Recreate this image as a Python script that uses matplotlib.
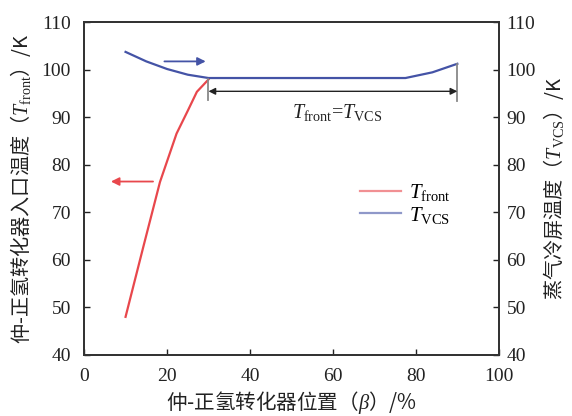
import matplotlib
matplotlib.use('Agg')
import matplotlib.pyplot as plt

plt.rcParams['font.family'] = ['Liberation Serif', 'Noto Sans CJK SC']
plt.rcParams['mathtext.fontset'] = 'custom'
plt.rcParams['mathtext.rm'] = 'Liberation Serif'
plt.rcParams['mathtext.it'] = 'Liberation Serif:italic'

# data
beta_front = [10, 14.3, 18.3, 22.3, 25, 27.2, 30]
t_front = [48, 62.8, 76.4, 86.6, 91.4, 95.4, 98.0]

beta_vcs = [10, 15, 20, 25, 30, 77.5, 84, 90]
t_vcs = [103.8, 101.8, 100.2, 99.0, 98.3, 98.3, 99.5, 101.3]

xticks = [0, 20, 40, 60, 80, 100]
yticks = [40, 50, 60, 70, 80, 90, 100, 110]

red = '#e8474c'
blue = '#4453a6'
spine_c = '#333333'
cjk = 'Noto Sans CJK SC'   # mathtext has no fallback, so labels use the CJK face

fig = plt.figure(figsize=(5.72, 4.16), dpi=100)
ax = fig.add_axes([0.147, 0.147, 0.725, 0.799])
ax2 = ax.twinx()

ax.plot(beta_front, t_front, color=red, lw=1.6, label=r'$T_{\mathrm{front}}$')
ax.plot(beta_vcs, t_vcs, color=blue, lw=1.6, label=r'$T_{\mathrm{VCS}}$')

ax.set_xlim(0, 100)
ax.set_ylim(40, 110)
ax2.set_ylim(40, 110)
ax.set_xticks(xticks)
ax.set_yticks(yticks)
ax2.set_yticks(yticks)

for a in (ax, ax2):
    a.tick_params(direction='in', length=4, width=1, labelsize=14, colors='#222222')
    for s in a.spines.values():
        s.set_color(spine_c)
        s.set_linewidth(1.3)
ax.tick_params(axis='x', pad=9.5)
ax.tick_params(axis='y', pad=9.5)
ax2.tick_params(axis='y', pad=5.5)

ax.set_xlabel('仲-正氢转化器位置（$\\beta$）/%', fontsize=14.8, color='#222222',
              labelpad=3, family=cjk)
ax.set_ylabel('仲-正氢转化器入口温度（$T_{\\mathrm{front}}$）/K', fontsize=14.5,
              color='#222222', labelpad=6, family=cjk)
ax2.set_ylabel('蒸气冷屏温度（$T_{\\mathrm{VCS}}$）/K', fontsize=14.5,
               color='#222222', labelpad=4, family=cjk)

# direction arrows
ax.annotate('', xy=(30, 101.8), xytext=(18.7, 101.8),
            arrowprops=dict(arrowstyle='-|>', color=blue, lw=1.3, mutation_scale=12))
ax.annotate('', xy=(5.8, 76.5), xytext=(17.3, 76.5),
            arrowprops=dict(arrowstyle='-|>', color=red, lw=1.3, mutation_scale=12))

# range marker
ax.plot([30, 30], [93.6, 98.0], color='#888888', lw=1.3)
ax.plot([90, 90], [93.4, 101.3], color='#888888', lw=1.3)
ax.annotate('', xy=(30, 95.5), xytext=(90, 95.5),
            arrowprops=dict(arrowstyle='<|-|>', color='#222222', lw=1.0,
                            mutation_scale=10, shrinkA=0, shrinkB=0))
ax.text(61, 91, r'$T_{\mathrm{front}}$=$T_{\mathrm{VCS}}$', fontsize=14.5,
        ha='center', va='center', color='#222222')

leg = ax.legend(loc='upper left', bbox_to_anchor=(0.62, 0.575), frameon=False,
                fontsize=15, handlelength=1.95, labelspacing=0.05, handletextpad=0.4)
for h in leg.get_lines():
    h.set_alpha(0.6)

fig.savefig('out.png', dpi=100)
